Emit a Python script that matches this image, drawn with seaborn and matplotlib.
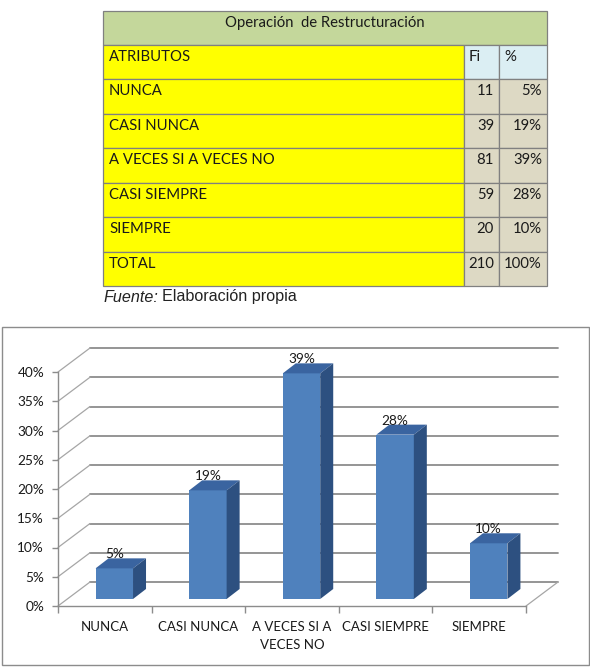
import matplotlib

matplotlib.use("Agg")

import matplotlib.pyplot as plt
import pandas as pd
import seaborn as sns
from matplotlib.patches import Polygon, Rectangle

# --- data ---
TABLE_TITLE = "Operación  de Restructuración"
TABLE_HEAD = ["ATRIBUTOS", "Fi", "%"]
ATTRIBUTES = ["NUNCA", "CASI NUNCA", "A VECES SI A VECES NO", "CASI SIEMPRE", "SIEMPRE"]
FI = [11, 39, 81, 59, 20]
PCT_LABELS = ["5%", "19%", "39%", "28%", "10%"]
TOTAL_LABEL = "TOTAL"
TOTAL_FI = 210
TOTAL_PCT = "100%"
X_LABELS = ["NUNCA", "CASI NUNCA", "A VECES SI A\nVECES NO", "CASI SIEMPRE", "SIEMPRE"]
Y_TICKS = [0, 5, 10, 15, 20, 25, 30, 35, 40]

FRONT = "#4f81bd"
TOP = "#3a64a0"
SIDE = "#2d5080"
GRID = "#8c8c8c"
DIAG = "#a6a6a6"
TABLE_FS = 10.7


def draw_table(bg):
    cols = [103, 464, 499, 547]
    top, head_bot, bottom = 11, 45, 286
    row_h = (bottom - head_bot) / 7
    bg.add_patch(Rectangle((cols[0], top), cols[-1] - cols[0], head_bot - top,
                           fc="#c4d79b", ec="#808080", lw=0.9))
    bg.text((cols[0] + cols[-1]) / 2, top + 12.5, TABLE_TITLE, ha="center", va="center",
            fontsize=TABLE_FS)

    rows = [TABLE_HEAD]
    rows += [[a, str(f), p] for a, f, p in zip(ATTRIBUTES, FI, PCT_LABELS)]
    rows.append([TOTAL_LABEL, str(TOTAL_FI), TOTAL_PCT])
    for i, row in enumerate(rows):
        y0 = head_bot + i * row_h
        for j in range(3):
            if j == 0:
                fc = "#ffff00"
            elif i == 0:
                fc = "#dbeef3"
            else:
                fc = "#ddd9c4"
            bg.add_patch(Rectangle((cols[j], y0), cols[j + 1] - cols[j], row_h,
                                   fc=fc, ec="#808080", lw=0.9))
        ty = y0 + 12
        bg.text(cols[0] + 6, ty, row[0], ha="left", va="center", fontsize=TABLE_FS)
        if i == 0:
            bg.text(cols[1] + 5, ty, row[1], ha="left", va="center", fontsize=TABLE_FS)
            bg.text(cols[2] + 5, ty, row[2], ha="left", va="center", fontsize=TABLE_FS)
        else:
            bg.text(cols[2] - 5, ty, row[1], ha="right", va="center", fontsize=TABLE_FS)
            bg.text(cols[3] - 5, ty, row[2], ha="right", va="center", fontsize=TABLE_FS)

    t1 = bg.text(103, 297, "Fuente:", ha="left", va="center", fontsize=11.6,
                 family="Liberation Sans", style="italic", color="#222222")
    bg.annotate("Elaboración propia", xy=(1, 0), xycoords=t1, xytext=(4, 0),
                textcoords="offset pixels", ha="left", va="bottom",
                fontsize=11.6, family="Liberation Sans", color="#222222")


def main() -> None:
    sns.set_theme(style="white")
    plt.rcParams["font.family"] = ["Lato", "DejaVu Sans"]
    plt.rcParams["text.color"] = "#1a1a1a"
    plt.rcParams["xtick.color"] = "#1a1a1a"
    plt.rcParams["ytick.color"] = "#1a1a1a"

    fig = plt.figure(figsize=(5.9, 6.71), dpi=100)
    bg = fig.add_axes([0, 0, 1, 1])
    bg.set_xlim(0, 590)
    bg.set_ylim(671, 0)
    bg.axis("off")

    draw_table(bg)
    bg.add_patch(Rectangle((2, 327), 587, 338, fc="white", ec=GRID, lw=1.0))

    ax = fig.add_axes([58 / 590, 65 / 671, 468 / 590, 234 / 671])
    ax.patch.set_alpha(0)

    df = pd.DataFrame({"atributo": X_LABELS, "pct": [f / TOTAL_FI * 100 for f in FI]})
    sns.barplot(data=df, x="atributo", y="pct", color=FRONT, saturation=1, width=0.4,
                ax=ax, zorder=3)
    ax.set_xlim(-0.5, 4.5)
    ax.set_ylim(0, 40)

    # pixel sizes -> data units for the 3-D look
    px_x = 468 / 5
    px_y = 234 / 40
    fdx, fdy = 9.5 / px_x, 7 / px_y
    ddx, ddy = 13 / px_x, 10 / px_y
    wdx, wdy = 32 / px_x, 24 / px_y

    x_lo, x_hi = ax.get_xlim()
    for v in Y_TICKS:
        ax.plot([x_lo + wdx, x_hi + wdx], [v + wdy, v + wdy], color=GRID, lw=1.3,
                clip_on=False, zorder=1)
        ax.plot([x_lo, x_lo + wdx], [v, v + wdy], color=DIAG, lw=0.9, clip_on=False, zorder=1)
    ax.plot([x_hi, x_hi + wdx], [0, wdy], color=DIAG, lw=0.9, clip_on=False, zorder=1)

    for i, p in enumerate(ax.patches):
        w = p.get_width()
        h = p.get_height()
        x0 = p.get_x() + fdx
        p.set_x(x0)
        p.set_y(fdy)
        p.set_edgecolor("none")
        p.set_clip_on(False)
        top = [(x0, fdy + h), (x0 + w, fdy + h), (x0 + w + ddx, fdy + h + ddy), (x0 + ddx, fdy + h + ddy)]
        side = [(x0 + w, fdy), (x0 + w + ddx, fdy + ddy), (x0 + w + ddx, fdy + h + ddy), (x0 + w, fdy + h)]
        ax.add_patch(Polygon(top, closed=True, fc=TOP, ec="none", zorder=3, clip_on=False))
        ax.add_patch(Polygon(side, closed=True, fc=SIDE, ec="none", zorder=3, clip_on=False))
        ax.annotate(PCT_LABELS[i], xy=(x0 + w / 2, fdy + h), xytext=(0, 14),
                    textcoords="offset pixels", ha="center", va="center", fontsize=9.8)

    sns.despine(ax=ax, top=True, right=True)
    for side_name in ("left", "bottom"):
        ax.spines[side_name].set_color(GRID)
        ax.spines[side_name].set_linewidth(1.0)

    ax.set_yticks(Y_TICKS)
    ax.set_yticklabels([f"{v}%" for v in Y_TICKS])
    ax.tick_params(axis="y", left=True, length=4, width=1, color=GRID, pad=6, labelsize=9.8)

    ax.set_xticks(range(len(X_LABELS)))
    ax.set_xticklabels(X_LABELS)
    ax.set_xticks([k - 0.5 for k in range(len(X_LABELS) + 1)], minor=True)
    ax.tick_params(axis="x", which="major", bottom=True, length=0, pad=11, labelsize=9.5)
    ax.tick_params(axis="x", which="minor", bottom=True, length=5, width=1, color=GRID)
    for lab in ax.get_xticklabels():
        lab.set_linespacing(1.55)
    ax.set_xlabel("")
    ax.set_ylabel("")

    fig.savefig("out.png", dpi=100)
    plt.close(fig)


if __name__ == "__main__":
    main()
